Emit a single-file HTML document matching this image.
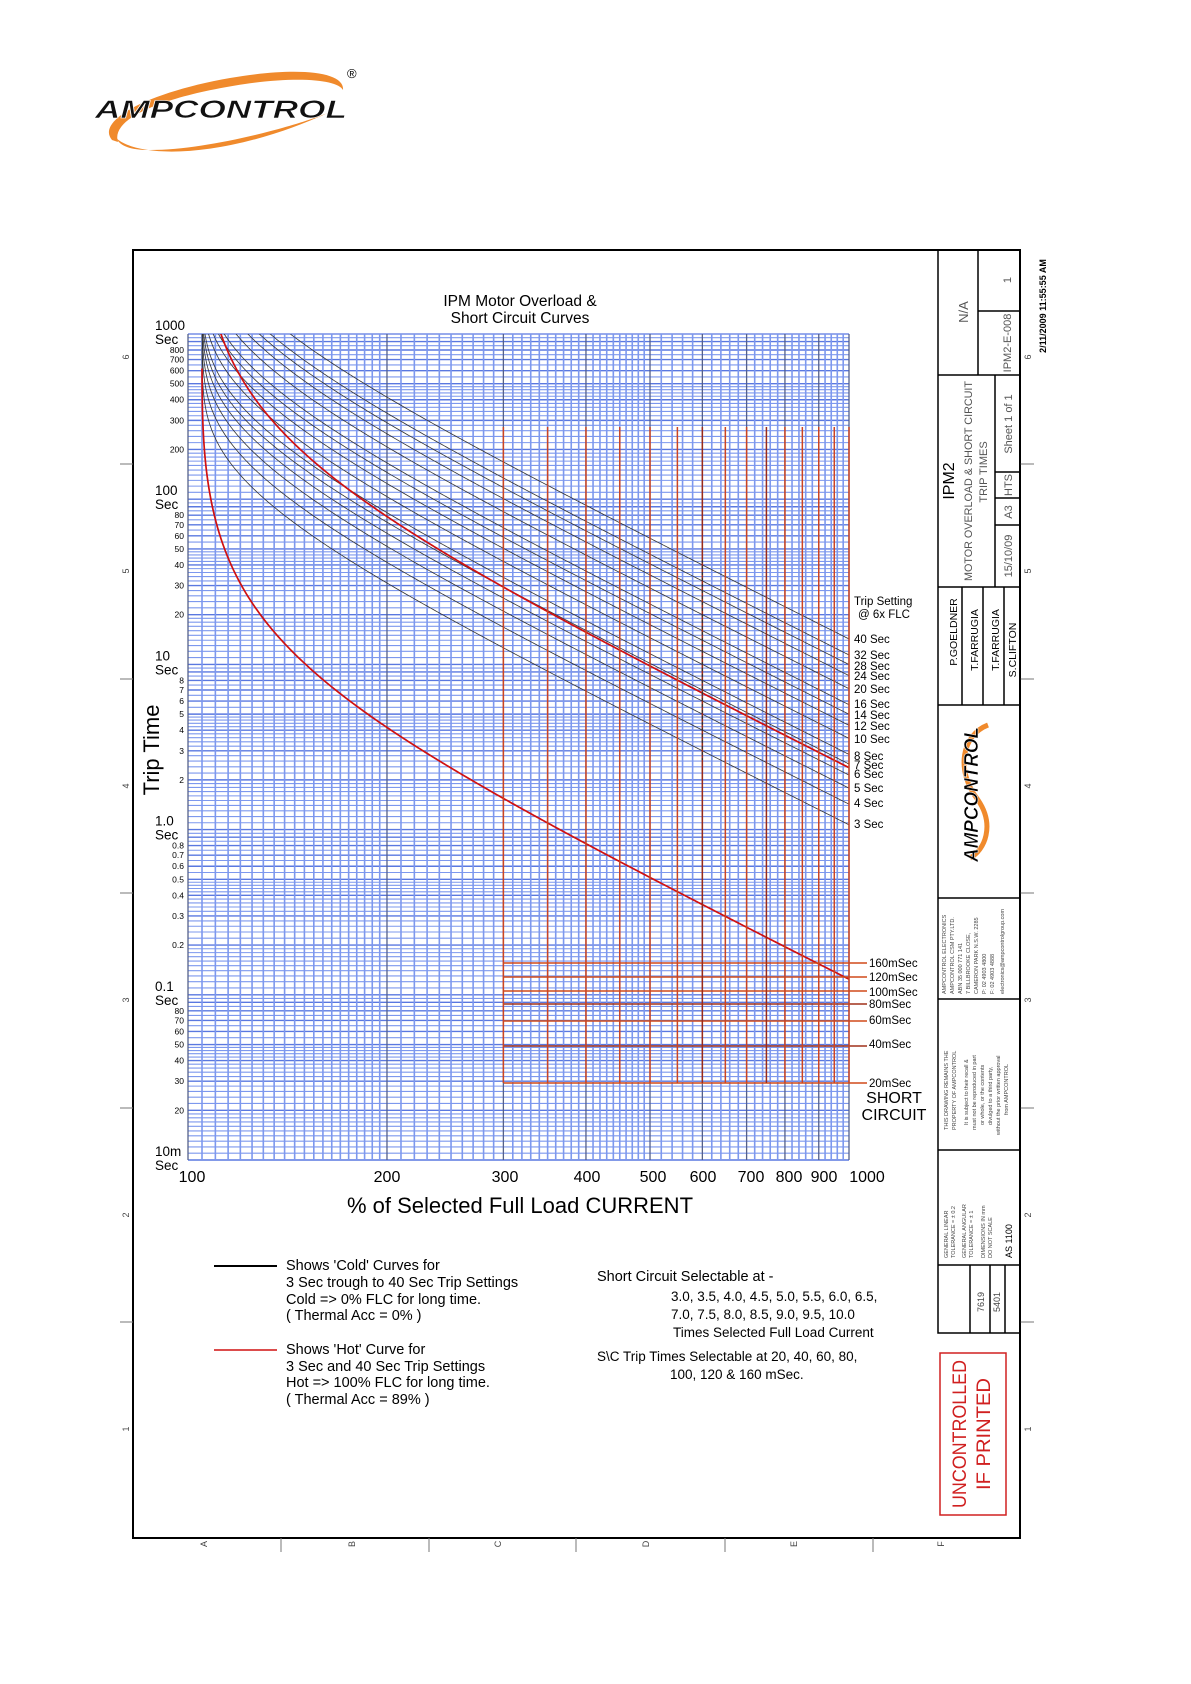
<!DOCTYPE html>
<html><head><meta charset="utf-8"><style>
html,body{margin:0;padding:0;background:#fff;}
svg{display:block;font-family:"Liberation Sans",sans-serif;}
</style></head><body>
<svg id="s" width="1191" height="1684" viewBox="0 0 1191 1684" xmlns="http://www.w3.org/2000/svg">
<defs><clipPath id="gc"><rect x="188" y="334" width="661" height="826"/></clipPath></defs>
<!-- logo -->
<path d="M112,140 C95,120 150,92 230,78 C300,66 345,72 343,90 C338,80 300,76 245,84 C165,96 110,118 118,142 Z" fill="#f08a2c"/>
<path d="M116,138 C140,160 230,158 330,112 C300,125 210,150 150,150 C130,150 120,146 116,138 Z" fill="#f08a2c"/>
<text x="95" y="118" font-size="25" font-weight="bold" font-style="italic" textLength="252" lengthAdjust="spacingAndGlyphs" fill="#111" stroke="#fff" stroke-width="0.6">AMPCONTROL</text>
<text x="347" y="78" font-size="13">®</text>
<!-- frame -->
<rect x="133" y="250" width="887" height="1288" fill="none" stroke="#000" stroke-width="2"/>
<g id="grid"></g>
<g id="curves" clip-path="url(#gc)"></g>
<g id="sc"></g>
<!-- titles -->
<text x="520" y="306" font-size="15.5" text-anchor="middle">IPM Motor Overload &amp;</text>
<text x="520" y="323" font-size="15.5" text-anchor="middle">Short Circuit Curves</text>
<text transform="translate(159,750) rotate(-90)" font-size="22" text-anchor="middle">Trip Time</text>
<text x="520" y="1213" font-size="22" text-anchor="middle">% of Selected Full Load CURRENT</text>
<g font-size="16" text-anchor="middle">
<text x="192" y="1182">100</text><text x="387" y="1182">200</text><text x="505" y="1182">300</text><text x="587" y="1182">400</text><text x="653" y="1182">500</text><text x="703" y="1182">600</text><text x="751" y="1182">700</text><text x="789" y="1182">800</text><text x="824" y="1182">900</text><text x="867" y="1182">1000</text>
</g>
<g id="ylab" font-size="13.5"></g>
<g font-size="11.5">
<text x="854" y="605">Trip Setting</text><text x="858" y="618">@ 6x FLC</text>
<text x="854" y="643">40 Sec</text><text x="854" y="659">32 Sec</text><text x="854" y="670">28 Sec</text><text x="854" y="680">24 Sec</text><text x="854" y="693">20 Sec</text><text x="854" y="708">16 Sec</text><text x="854" y="719">14 Sec</text><text x="854" y="730">12 Sec</text><text x="854" y="743">10 Sec</text><text x="854" y="760">8 Sec</text><text x="854" y="769">7 Sec</text><text x="854" y="778">6 Sec</text><text x="854" y="792">5 Sec</text><text x="854" y="807">4 Sec</text><text x="854" y="828">3 Sec</text>
<text x="869" y="967">160mSec</text><text x="869" y="981">120mSec</text><text x="869" y="996">100mSec</text><text x="869" y="1008">80mSec</text><text x="869" y="1024">60mSec</text><text x="869" y="1048">40mSec</text><text x="869" y="1087">20mSec</text>
</g>
<text x="894" y="1103" font-size="16" text-anchor="middle">SHORT</text>
<text x="894" y="1120" font-size="16" text-anchor="middle">CIRCUIT</text>
<!-- legend -->
<line x1="214" y1="1266" x2="277" y2="1266" stroke="#000" stroke-width="2"/>
<line x1="214" y1="1350" x2="277" y2="1350" stroke="#d01010" stroke-width="1.5"/>
<g font-size="14.5">
<text x="286" y="1270">Shows 'Cold' Curves for</text>
<text x="286" y="1287">3 Sec trough to 40 Sec Trip Settings</text>
<text x="286" y="1304">Cold =&gt; 0% FLC for long time.</text>
<text x="286" y="1320">( Thermal Acc = 0% )</text>
<text x="286" y="1354">Shows 'Hot' Curve for</text>
<text x="286" y="1371">3 Sec and 40 Sec Trip Settings</text>
<text x="286" y="1387">Hot =&gt; 100% FLC for long time.</text>
<text x="286" y="1404">( Thermal Acc = 89% )</text>
<text x="597" y="1281">Short Circuit Selectable at -</text>
</g>
<g font-size="13.5">
<text x="671" y="1301">3.0, 3.5, 4.0, 4.5, 5.0, 5.5, 6.0, 6.5,</text>
<text x="671" y="1319">7.0, 7.5, 8.0, 8.5, 9.0, 9.5, 10.0</text>
<text x="673" y="1337">Times Selected Full Load Current</text>
<text x="597" y="1361">S\C Trip Times Selectable at 20, 40, 60, 80,</text>
<text x="670" y="1379">100, 120 &amp; 160 mSec.</text>
</g>
<!-- border marks -->
<g stroke="#777" stroke-width="1">
<line x1="281" y1="1538" x2="281" y2="1552"/><line x1="429" y1="1538" x2="429" y2="1552"/><line x1="576" y1="1538" x2="576" y2="1552"/><line x1="725" y1="1538" x2="725" y2="1552"/><line x1="873" y1="1538" x2="873" y2="1552"/>
<line x1="120" y1="464" x2="133" y2="464"/><line x1="120" y1="679" x2="133" y2="679"/><line x1="120" y1="893" x2="133" y2="893"/><line x1="120" y1="1108" x2="133" y2="1108"/><line x1="120" y1="1322" x2="133" y2="1322"/>
<line x1="1020" y1="464" x2="1034" y2="464"/><line x1="1020" y1="679" x2="1034" y2="679"/><line x1="1020" y1="893" x2="1034" y2="893"/><line x1="1020" y1="1108" x2="1034" y2="1108"/><line x1="1020" y1="1322" x2="1034" y2="1322"/>
</g>
<g font-size="9" fill="#444" text-anchor="middle">
<text transform="translate(207,1544) rotate(-90)">A</text><text transform="translate(355,1544) rotate(-90)">B</text><text transform="translate(501,1544) rotate(-90)">C</text><text transform="translate(649,1544) rotate(-90)">D</text><text transform="translate(797,1544) rotate(-90)">E</text><text transform="translate(944,1544) rotate(-90)">F</text>
<text transform="translate(129,357) rotate(-90)">6</text><text transform="translate(129,571) rotate(-90)">5</text><text transform="translate(129,786) rotate(-90)">4</text><text transform="translate(129,1000) rotate(-90)">3</text><text transform="translate(129,1215) rotate(-90)">2</text><text transform="translate(129,1429) rotate(-90)">1</text>
<text transform="translate(1031,357) rotate(-90)">6</text><text transform="translate(1031,571) rotate(-90)">5</text><text transform="translate(1031,786) rotate(-90)">4</text><text transform="translate(1031,1000) rotate(-90)">3</text><text transform="translate(1031,1215) rotate(-90)">2</text><text transform="translate(1031,1429) rotate(-90)">1</text>
</g>
<text transform="translate(1046,306) rotate(-90)" font-size="9" font-weight="bold" text-anchor="middle">2/11/2009 11:55:55 AM</text>
<!-- title block -->
<g fill="none" stroke="#000" stroke-width="1.5">
<rect x="938" y="250" width="82" height="1083"/>
<line x1="938" y1="375" x2="1020" y2="375"/><line x1="938" y1="587" x2="1020" y2="587"/><line x1="938" y1="705" x2="1020" y2="705"/><line x1="938" y1="898" x2="1020" y2="898"/><line x1="938" y1="999" x2="1020" y2="999"/><line x1="938" y1="1150" x2="1020" y2="1150"/><line x1="938" y1="1265" x2="1020" y2="1265"/>
<line x1="978" y1="250" x2="978" y2="375"/><line x1="978" y1="311" x2="1020" y2="311"/>
<line x1="995" y1="375" x2="995" y2="587"/><line x1="995" y1="472" x2="1020" y2="472"/><line x1="995" y1="498" x2="1020" y2="498"/><line x1="995" y1="525" x2="1020" y2="525"/>
<line x1="962" y1="587" x2="962" y2="705"/><line x1="983" y1="587" x2="983" y2="705"/><line x1="1004" y1="587" x2="1004" y2="705"/>
<line x1="970" y1="1265" x2="970" y2="1333"/><line x1="990" y1="1265" x2="990" y2="1333"/><line x1="1005" y1="1265" x2="1005" y2="1333"/>
</g>
<g font-size="12" fill="#555">
<text transform="translate(968,312) rotate(-90)" text-anchor="middle" font-size="13">N/A</text>
<text transform="translate(1011,343) rotate(-90)" text-anchor="middle" font-size="11">IPM2-E-008</text>
<text transform="translate(1011,280) rotate(-90)" text-anchor="middle" font-size="11">1</text>
<text transform="translate(954,481) rotate(-90)" text-anchor="middle" font-size="16" fill="#000">IPM2</text>
<text transform="translate(972,481) rotate(-90)" text-anchor="middle" font-size="11" textLength="200" lengthAdjust="spacingAndGlyphs">MOTOR OVERLOAD &amp; SHORT CIRCUIT</text>
<text transform="translate(987,472) rotate(-90)" text-anchor="middle" font-size="11">TRIP TIMES</text>
<text transform="translate(1012,424) rotate(-90)" text-anchor="middle" font-size="11">Sheet 1 of 1</text>
<text transform="translate(1012,485) rotate(-90)" text-anchor="middle" font-size="11">HTS</text>
<text transform="translate(1012,512) rotate(-90)" text-anchor="middle" font-size="11">A3</text>
<text transform="translate(1012,556) rotate(-90)" text-anchor="middle" font-size="11">15/10/09</text>
<g fill="#000" font-size="10.5" text-anchor="middle">
<text transform="translate(957,632) rotate(-90)">P.GOELDNER</text>
<text transform="translate(978,640) rotate(-90)">T.FARRUGIA</text>
<text transform="translate(999,640) rotate(-90)">T.FARRUGIA</text>
<text transform="translate(1016,650) rotate(-90)">S.CLIFTON</text>
</g>
<g font-size="5.5" fill="#444">
<text transform="translate(946,994) rotate(-90)">AMPCONTROL ELECTRONICS</text>
<text transform="translate(954,994) rotate(-90)">AMPCONTROL CSM PTY.LTD.</text>
<text transform="translate(962,994) rotate(-90)">ABN 35 000 771 141</text>
<text transform="translate(970,994) rotate(-90)">7 BILLBROOKE CLOSE,</text>
<text transform="translate(978,994) rotate(-90)">CAMERON PARK N.S.W. 2285</text>
<text transform="translate(986,994) rotate(-90)">P: 02 4903 4800</text>
<text transform="translate(994,994) rotate(-90)">F: 02 4903 4888</text>
<text transform="translate(1004,994) rotate(-90)">electronics@ampcontrolgroup.com</text>
<text transform="translate(948,1130) rotate(-90)">THIS DRAWING REMAINS THE</text>
<text transform="translate(956,1130) rotate(-90)">PROPERTY OF AMPCONTROL</text>
<text transform="translate(968,1125) rotate(-90)">It is subject to their recall &amp;</text>
<text transform="translate(976,1130) rotate(-90)">must not be reproduced in part</text>
<text transform="translate(984,1125) rotate(-90)">or whole, or the contents</text>
<text transform="translate(992,1125) rotate(-90)">divulged to a third party,</text>
<text transform="translate(1000,1135) rotate(-90)">without the prior written approval</text>
<text transform="translate(1008,1115) rotate(-90)">from AMPCONTROL</text>
<text transform="translate(948,1258) rotate(-90)">GENERAL LINEAR</text>
<text transform="translate(955,1258) rotate(-90)">TOLERANCE = ± 0.2</text>
<text transform="translate(966,1258) rotate(-90)">GENERAL ANGULAR</text>
<text transform="translate(973,1258) rotate(-90)">TOLERANCE = ± 1</text>
<text transform="translate(985,1258) rotate(-90)">DIMENSIONS IN mm</text>
<text transform="translate(992,1258) rotate(-90)">DO NOT SCALE</text>
<text transform="translate(1012,1258) rotate(-90)" font-size="9" fill="#000">AS 1100</text>
<text transform="translate(984,1312) rotate(-90)" font-size="9">7619</text>
<text transform="translate(1000,1312) rotate(-90)" font-size="9">5401</text>
</g>
</g>
<path d="M988,725 C962,735 955,770 978,800 C995,825 985,850 970,858" fill="none" stroke="#f08a2c" stroke-width="5"/>
<text transform="translate(978,862) rotate(-90)" font-size="20" font-weight="bold" font-style="italic" textLength="135" lengthAdjust="spacingAndGlyphs" stroke="#fff" stroke-width="0.5">AMPCONTROL</text>
<rect x="940" y="1353" width="66" height="162" fill="none" stroke="#d02020" stroke-width="1.5"/>
<text transform="translate(966,1434) rotate(-90)" font-size="19" fill="#d02020" text-anchor="middle" textLength="148" lengthAdjust="spacingAndGlyphs">UNCONTROLLED</text>
<text transform="translate(990,1434) rotate(-90)" font-size="19" fill="#d02020" text-anchor="middle" textLength="112" lengthAdjust="spacingAndGlyphs">IF PRINTED</text>
</svg>
<script>
(function(){
var NS="http://www.w3.org/2000/svg";
function X(p){return 188+661*Math.log10(p/100);}
function Y(t){return 334+165.2*(3-Math.log10(t));}
function el(g,n,a){var e=document.createElementNS(NS,n);for(var k in a)e.setAttribute(k,a[k]);g.appendChild(e);return e;}
var grid=document.getElementById('grid');
el(grid,'rect',{x:188,y:334,width:661,height:826,fill:'#fff'});
for(var d=-2;d<3;d++){var b=Math.pow(10,d);
 var vals=[];for(var v=1;v<2-1e-9;v+=0.1)vals.push(v);for(v=2;v<5-1e-9;v+=0.2)vals.push(v);for(v=5;v<10-1e-9;v+=0.5)vals.push(v);
 vals.forEach(function(v){var y=Y(v*b);var maj=Math.abs(v-Math.round(v))<1e-6;
  el(grid,'line',{x1:188,x2:849,y1:y,y2:y,stroke:maj?'#5a78e0':'#7d98ee','stroke-width':maj?1.4:1.1});});}
el(grid,'line',{x1:188,x2:849,y1:334,y2:334,stroke:'#5a78e0','stroke-width':1.2});
var xs=[];for(var p=100;p<200;p+=5)xs.push(p);for(p=200;p<500;p+=10)xs.push(p);for(p=500;p<=1000;p+=20)xs.push(p);
xs.forEach(function(p){var x=X(p);var maj=p%100==0;
 el(grid,'line',{x1:x,x2:x,y1:334,y2:1160,stroke:maj?'#55608a':'#7d98ee','stroke-width':maj?1.3:1.6});});
var sc=document.getElementById('sc');
[963,977,991,1004,1021,1046,1083].forEach(function(y,i){el(sc,'line',{x1:504,x2:867,y1:y,y2:y,stroke:(i==3||i==5)?'#a0301a':'#d04a1a','stroke-width':1.6});});
for(var m=3;m<=10.001;m+=0.5){var x=X(m*100);el(sc,'line',{x1:x,x2:x,y1:427,y2:1083,stroke:(m==6||m==7.5)?'#9a2a1a':'#cc4422','stroke-width':1.5});}
el(sc,'line',{x1:X(600),x2:X(600),y1:560,y2:760,stroke:'#333','stroke-width':1.2,'stroke-dasharray':'3,3'});
var cv=document.getElementById('curves');var k2=1.1025;
function path(T,p0,col,w){var tau=T/Math.log(36/(36-k2));var d='';var n=600;
 for(var i=0;i<=n;i++){var I=1.0501*Math.pow(10/1.0501,i/n);
  if(i<40)I=1.0501+(Math.pow(10/1.0501,40/n)*1.0501-1.0501)*Math.pow(i/40,3);
  var t=tau*Math.log((I*I-p0)/(I*I-k2));if(t>3000)t=3000;
  d+=(d?'L':'M')+X(I*100).toFixed(2)+','+Y(t).toFixed(2);}
 el(cv,'path',{d:d,fill:'none',stroke:col,'stroke-width':w});}
[3,4,5,6,7,8,10,12,14,16,20,24,28,32,40].forEach(function(T){path(T,0,'#333',0.8);});
path(40,0.92,'#d01010',1.7);path(3,0.975,'#d01010',1.7);
var yl=document.getElementById('ylab');
var big=[[1000,'1000'],[100,'100'],[10,'10'],[1,'1.0'],[0.1,'0.1'],[0.01,'10m']];
big.forEach(function(b){var y=Y(b[0]);var t=el(yl,'text',{x:155,y:y-4,'font-size':13.5});t.textContent=b[1];
 var s=el(yl,'text',{x:155,y:y+10,'font-size':13.5});s.textContent='Sec';});
var sm=[[800,'800'],[700,'700'],[600,'600'],[500,'500'],[400,'400'],[300,'300'],[200,'200'],[80,'80'],[70,'70'],[60,'60'],[50,'50'],[40,'40'],[30,'30'],[20,'20'],[8,'8'],[7,'7'],[6,'6'],[5,'5'],[4,'4'],[3,'3'],[2,'2'],[.8,'0.8'],[.7,'0.7'],[.6,'0.6'],[.5,'0.5'],[.4,'0.4'],[.3,'0.3'],[.2,'0.2'],[.08,'80'],[.07,'70'],[.06,'60'],[.05,'50'],[.04,'40'],[.03,'30'],[.02,'20']];
sm.forEach(function(s){var t=el(yl,'text',{x:184,y:Y(s[0])+3,'font-size':8.5,'text-anchor':'end'});t.textContent=s[1];});
})();
</script>
</body></html>
